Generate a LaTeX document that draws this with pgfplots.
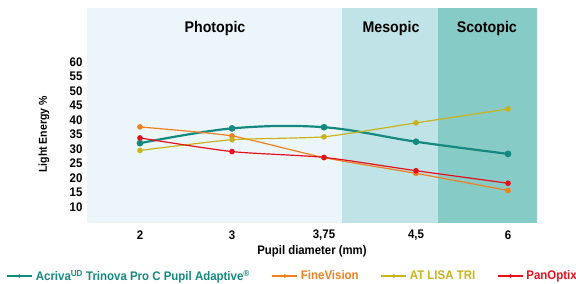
\documentclass[border=0pt]{standalone}
\usepackage{fontspec}
\setmainfont[FakeStretch=0.92]{Liberation Sans}
\usepackage{pgfplots}
\pgfplotsset{compat=1.18}
\definecolor{cPhot}{HTML}{EBF5FA}
\definecolor{cMes}{HTML}{BFE3E6}
\definecolor{cScot}{HTML}{86CBC6}
\definecolor{cTeal}{HTML}{13897F}
\definecolor{cOrange}{HTML}{F07F1E}
\definecolor{cYellow}{HTML}{C9B31C}
\definecolor{cRed}{HTML}{E3101E}
\begin{document}
\begin{tikzpicture}
\path[use as bounding box] (0,0) rectangle (576bp,284bp);
\begin{axis}[
  at={(87bp,61bp)}, anchor=south west,
  scale only axis, width=450bp, height=215bp,
  xmin=-0.576, xmax=4.315, ymin=4.48, ymax=78.6,
  axis line style={draw=none},
  major tick length=0pt,
  xtick={0,1,2,3,4}, xticklabels={2,3,{3,75},{4,5},6},
  ytick={10,15,...,60},
  /pgf/number format/assume math mode=true,
  ticklabel style={font=\bfseries\fontsize{12.5}{14}\selectfont},
  xticklabel style={anchor=center, yshift=-12.5bp},
  yticklabel style={anchor=east, xshift=-1bp},
  xlabel={Pupil diameter (mm)},
  xlabel style={at={(rel axis cs:0.5,0)}, anchor=center, yshift=-28bp, font=\bfseries\fontsize{12.4}{14}\selectfont},
  legend style={at={(rel axis cs:0.456,0)}, anchor=center, yshift=-53bp, draw=none, fill=none,
    legend columns=4, font=\bfseries\fontsize{12.5}{14}\selectfont,
    /tikz/every even column/.append style={column sep=20bp},
    /tikz/every odd column/.append style={column sep=1bp}},
  legend image code/.code={\draw[#1] (0bp,0bp) -- (25bp,0bp); \draw[#1, line width=0.8pt, only marks, mark size=1.4] plot coordinates {(12.5bp,0bp)};},
  clip=false,
]
\fill[cPhot] (axis cs:-0.576,4.48) rectangle (axis cs:2.196,78.6);
\fill[cMes] (axis cs:2.196,4.48) rectangle (axis cs:3.239,78.6);
\fill[cScot] (axis cs:3.239,4.48) rectangle (axis cs:4.315,78.6);
\node[font=\bfseries\fontsize{15.5}{17}\selectfont] at (axis cs:0.815,71.4) {Photopic};
\node[font=\bfseries\fontsize{15.5}{17}\selectfont] at (axis cs:2.728,71.4) {Mesopic};
\node[font=\bfseries\fontsize{15.5}{17}\selectfont] at (axis cs:3.77,71.4) {Scotopic};
\node[font=\bfseries\fontsize{11.5}{13}\selectfont, rotate=90] at ([xshift=-43bp]rel axis cs:0,0.412) {Light Energy \%};

\addplot[cTeal, line width=2.2pt, smooth, tension=0.6, mark=*, mark size=2.2] coordinates {(0,32.0) (1,37.1) (2,37.5) (3,32.5) (4,28.3)};
\addlegendentry{\textcolor{cTeal}{Acriva\textsuperscript{UD} Trinova Pro C Pupil Adaptive\textsuperscript{®}}}
\addplot[cOrange, line width=1.2pt, smooth, tension=0.3, mark=*, mark size=2.2] coordinates {(0,37.6) (1,34.5) (2,27.0) (3,21.6) (4,15.7)};
\addlegendentry{\textcolor{cOrange}{FineVision}}
\addplot[cYellow, line width=1.2pt, smooth, tension=0.3, mark=*, mark size=2.2] coordinates {(0,29.5) (1,33.2) (2,34.2) (3,39.0) (4,43.8)};
\addlegendentry{\textcolor{cYellow}{AT LISA TRI}}
\addplot[cRed, line width=1.2pt, smooth, tension=0.4, mark=*, mark size=2.2] coordinates {(0,33.8) (1,29.1) (2,27.1) (3,22.5) (4,18.2)};
\addlegendentry{\textcolor{cRed}{PanOptix}}
\end{axis}
\end{tikzpicture}
\end{document}
